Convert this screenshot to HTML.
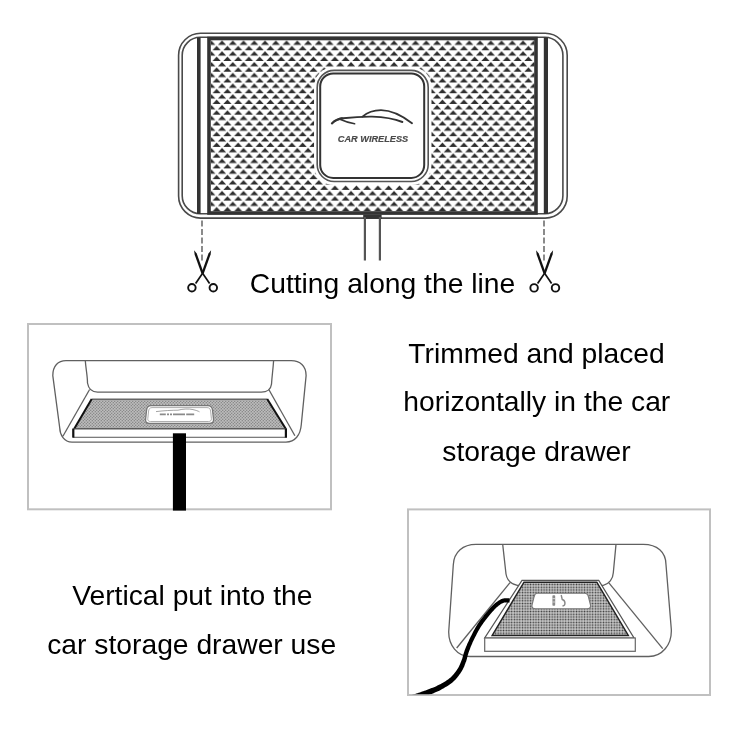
<!DOCTYPE html>
<html><head><meta charset="utf-8">
<style>
html,body{margin:0;padding:0;background:#fff;}
body{width:750px;height:750px;overflow:hidden;position:relative;}
svg{position:absolute;left:0;top:0;filter:blur(0.35px);}
text{font-family:"Liberation Sans",sans-serif;}
</style></head><body>
<svg width="750" height="750" viewBox="0 0 750 750">
<defs>
<pattern id="tri" x="211.3" y="40.5" width="10.75" height="10.74" patternUnits="userSpaceOnUse">
<path d="M0,0 L4.1,4.3 L-4.1,4.3Z M10.75,0 L14.85,4.3 L6.65,4.3Z M5.375,5.37 L9.475,9.67 L1.275,9.67Z" fill="#2e2e2e"/>
</pattern>
<pattern id="hatch1" x="0" y="0" width="3" height="3" patternUnits="userSpaceOnUse">
<rect width="3" height="3" fill="#acacac"/>
<path d="M-0.5,3.5 L3.5,-0.5 M-0.5,0.5 L0.5,-0.5 M2.5,3.5 L3.5,2.5" stroke="#7c7c7c" stroke-width="0.7"/>
<path d="M-0.5,-0.5 L3.5,3.5 M2.5,-0.5 L3.5,0.5 M-0.5,2.5 L0.5,3.5" stroke="#cfcfcf" stroke-width="0.5"/>
</pattern>
<pattern id="grid2" x="0" y="0" width="2.7" height="2.7" patternUnits="userSpaceOnUse">
<rect width="2.7" height="2.7" fill="#e6e6e6"/>
<rect x="0.5" y="0.5" width="1.75" height="1.75" fill="#383838"/>
</pattern>
</defs>

<!-- ===== main pad ===== -->
<rect x="178.6" y="33.3" width="388.6" height="184.8" rx="22" fill="#fff" stroke="#4a4a4a" stroke-width="1.6"/>
<rect x="182.2" y="37.3" width="380.7" height="176.4" rx="18" fill="#fff" stroke="#4a4a4a" stroke-width="1.6"/>
<rect x="211" y="40" width="323.5" height="171.5" fill="url(#tri)"/>
<rect x="209" y="38.5" width="327" height="174.5" fill="none" stroke="#333" stroke-width="3.6"/>
<rect x="197" y="37.5" width="3.6" height="176.5" fill="#333"/>
<rect x="543.8" y="37.5" width="4.2" height="176.5" fill="#333"/>
<!-- badge -->
<rect x="314" y="67" width="117.5" height="118" rx="20" fill="#fff"/>
<rect x="317.2" y="70.4" width="111" height="111.1" rx="17" fill="#fff" stroke="#555" stroke-width="1.6"/>
<rect x="320.2" y="73.5" width="104" height="104.4" rx="13" fill="#fff" stroke="#333" stroke-width="2"/>
<g fill="none" stroke="#333" stroke-linecap="round">
<path d="M331.8,123.3 C334.5,120.2 338,118.6 343,118.2 C352,117.2 362,116.5 372,116.6 C385,117 395,119 402.4,122" stroke-width="1.9"/>
<path d="M362.5,116.6 C367.5,112.2 373.5,110.1 381,110.1 C392,110.2 402,115.5 412,123.2" stroke-width="1.9"/>
<path d="M340.6,119.6 C345,121.6 349,123.1 354.6,123.8" stroke-width="1.6"/>
<path d="M331.2,124 C334,120.4 337.5,117.9 342.5,117.1 L343.5,119.3 C338.5,119.9 335,121.8 332.3,124.4Z" fill="#333" stroke="none"/>
</g>
<text x="373" y="141.8" text-anchor="middle" font-size="9.2" font-weight="bold" font-style="italic" fill="#4a4a4a" stroke="#4a4a4a" stroke-width="0.15">CAR WIRELESS</text>
<!-- cable -->
<rect x="363.2" y="214.8" width="18.4" height="4" fill="#333"/>
<rect x="363.8" y="217" width="2.2" height="43.5" fill="#555"/>
<rect x="378.8" y="217" width="2.2" height="43.5" fill="#555"/>
<!-- dashed -->
<line x1="202" y1="220.4" x2="202" y2="260.4" stroke="#777" stroke-width="1.7" stroke-dasharray="6.1,2.4"/>
<line x1="544" y1="220.4" x2="544" y2="260.4" stroke="#777" stroke-width="1.7" stroke-dasharray="6.1,2.4"/>
<!-- scissors -->
<g id="sc1" fill="none" stroke="#111" stroke-linecap="butt">
<path d="M194.1,250.2 L196.7,253.6 L203.7,272.9 L201.5,273.7 L194.6,254.4Z" fill="#111" stroke="none"/>
<path d="M211.1,250.2 L208.5,253.6 L201.5,272.9 L203.7,273.7 L210.6,254.4Z" fill="#111" stroke="none"/>
<path d="M202.6,273.3 L209.6,283.6" stroke-width="1.7"/>
<path d="M202.6,273.3 L195.6,283.6" stroke-width="1.7"/>
</g>
<g fill="none" stroke="#111" stroke-width="1.9">
<circle cx="191.9" cy="287.8" r="3.75"/>
<circle cx="213.3" cy="287.8" r="3.75"/>
</g>
<g transform="translate(342,0)" fill="none" stroke="#111" stroke-linecap="butt">
<path d="M194.1,250.2 L196.7,253.6 L203.7,272.9 L201.5,273.7 L194.6,254.4Z" fill="#111" stroke="none"/>
<path d="M211.1,250.2 L208.5,253.6 L201.5,272.9 L203.7,273.7 L210.6,254.4Z" fill="#111" stroke="none"/>
<path d="M202.6,273.3 L209.6,283.6" stroke-width="1.7"/>
<path d="M202.6,273.3 L195.6,283.6" stroke-width="1.7"/>
</g>
<g fill="none" stroke="#111" stroke-width="1.9">
<circle cx="534.1" cy="287.9" r="3.75"/>
<circle cx="555.5" cy="287.9" r="3.75"/>
</g>
<text x="382.5" y="293.3" text-anchor="middle" font-size="28.25" fill="#000">Cutting along the line</text>

<!-- ===== box 1 ===== -->
<rect x="28" y="324" width="303" height="185.3" fill="none" stroke="#c0c0c0" stroke-width="2"/>
<g fill="none" stroke="#606060" stroke-width="1.3">
<path d="M66,360.7 L291.2,360.7 C300,360.7 306.1,366 306.1,375.6 L301.3,424.5 C300.5,435 295,442.1 285.9,442.1 L72,442.1 C64,442.1 60,435 59.7,427.7 L52.8,375.6 C52.8,366 58,360.7 66,360.7Z" fill="#fff"/>
<path d="M85.3,360.7 C86,370 87.5,376 87.5,383 C88.5,389 92,392.1 97.6,392.1 L261.3,392.1 C267,392.1 271,389 271.5,384.1 C272,376 273,370 273.6,360.7"/>
<path d="M89.6,389.5 L62.9,436.3"/>
<path d="M268.8,389.5 L294.9,435.7"/>
</g>
<path d="M91.7,399 L267.2,399 L285.9,429 L74.1,429Z" fill="url(#hatch1)"/>
<path d="M91.7,399.2 L267.2,399.2" stroke="#666" stroke-width="1.5"/>
<path d="M74.1,429.2 L285.9,429.2" stroke="#333" stroke-width="2"/>
<path d="M91.7,399 L74.1,429" stroke="#111" stroke-width="2"/>
<path d="M267.2,399 L285.9,429" stroke="#111" stroke-width="2"/>
<rect x="73.3" y="429" width="213" height="8.3" fill="#fff" stroke="#666" stroke-width="1.1"/>
<rect x="72.2" y="428.6" width="2.2" height="9" fill="#111"/>
<rect x="284.8" y="428.6" width="2.2" height="9" fill="#111"/>
<!-- mat badge -->
<path d="M151,405.7 L208,405.7 C211,405.7 212,407 212.5,410 L213.5,419 C213.8,422 212.5,423.3 210,423.3 L149,423.3 C146.5,423.3 145.3,422 145.6,419 L146.6,410 C147,407 148.5,405.7 151,405.7Z" fill="#fff" stroke="#777" stroke-width="1.3"/>
<path d="M152,407.6 L207,407.6 C209.5,407.6 210.3,409 210.6,411 L211.4,418.5 C211.6,420.5 210.5,421.5 208.5,421.5 L150.5,421.5 C148.5,421.5 147.5,420.5 147.8,418.5 L148.6,411 C148.9,409 149.8,407.6 152,407.6Z" fill="#fff" stroke="#999" stroke-width="0.8"/>
<path d="M156,411.6 C164,410.6 172,410.2 178,410.2 C183,408.8 189,408.6 193,409.6 C196,410.3 198,411 199.5,411.8" fill="none" stroke="#999" stroke-width="0.9"/>
<path d="M159.8,414.4 L199.8,414.4" stroke="#8a8a8a" stroke-width="1.8" stroke-dasharray="6,1.2,2,1,2,1,12,1.2,8"/>
<!-- cable -->
<rect x="172.9" y="433.3" width="13.1" height="77.3" fill="#000"/>

<!-- ===== box 2 ===== -->
<rect x="408" y="509.4" width="302" height="185.6" fill="none" stroke="#c0c0c0" stroke-width="2"/>
<g fill="none" stroke="#606060" stroke-width="1.3">
<path d="M476,544.4 L643.3,544.4 C657,544.4 666,552 666,564.7 L671.3,629.3 C672,645 662,656.5 648.7,656.5 L470,656.5 C457,656.5 448.7,645 448.7,632 L453.3,564.7 C454,552 463,544.4 476,544.4Z" fill="#fff"/>
<path d="M502.7,544.4 L506,574 C507,580 511,584 517.3,585.3 L603.3,585.3 C609,584 613,579 613.3,572.7 L616,544.4"/>
<path d="M510,582.7 L456.7,648"/>
<path d="M608.7,582.7 L662.7,648.7"/>
</g>
<path d="M522,580.4 L598.7,580.4 L634,638 L484.7,638Z" fill="#fff" stroke="#555" stroke-width="1.2"/>
<path d="M524,582.2 L596.8,582.2 L628.3,635.4 L492.2,635.4Z" fill="url(#grid2)" stroke="#222" stroke-width="1.5"/>
<path d="M537,593.3 L584.5,593.3 C587,593.3 588,595 588.5,597 L590.5,605 C591,607.5 589.5,608.7 587,608.7 L535.5,608.7 C533,608.7 531.5,607.5 532,605 L534,597 C534.5,595 535.5,593.3 537,593.3Z" fill="#fff" stroke="#777" stroke-width="1.1"/>
<rect x="552.4" y="595.2" width="2.8" height="10.6" rx="0.8" fill="#8a8a8a"/><path d="M552.4,598.6 H555.2 M552.4,602 H555.2" stroke="#eee" stroke-width="0.7"/><path d="M561.2,595 L562.2,599.5 C565.5,600.3 566.2,605.5 562.5,606" stroke="#888" stroke-width="1.4" fill="none"/>
<rect x="484.7" y="638" width="150.6" height="13.3" fill="#fff" stroke="#666" stroke-width="1.2"/>
<clipPath id="b2clip"><rect x="409" y="511" width="300" height="183.2"/></clipPath>
<g clip-path="url(#b2clip)"><path d="M509.5,598.2 L509.2,598.2 L508.9,598.2 L508.5,598.2 L508.0,598.2 L507.4,598.2 L506.8,598.2 L506.2,598.2 L505.6,598.2 L504.9,598.2 L504.3,598.3 L503.6,598.4 L502.9,598.6 L502.4,598.8 L501.8,598.9 L501.3,599.1 L500.8,599.4 L500.3,599.6 L499.8,599.9 L499.3,600.2 L498.8,600.5 L498.3,600.8 L497.8,601.2 L497.3,601.5 L496.7,601.9 L496.2,602.3 L495.7,602.7 L495.2,603.1 L494.7,603.5 L494.2,604.0 L493.6,604.4 L493.1,605.0 L492.5,605.5 L491.9,606.2 L491.2,606.8 L490.6,607.6 L489.8,608.4 L489.0,609.3 L488.2,610.3 L487.2,611.4 L486.3,612.6 L485.3,613.8 L484.2,615.1 L483.2,616.4 L482.2,617.7 L481.2,619.0 L480.2,620.3 L479.3,621.6 L478.5,622.8 L477.6,624.1 L476.9,625.3 L476.1,626.6 L475.4,627.8 L474.7,629.1 L474.0,630.3 L473.3,631.5 L472.7,632.8 L472.1,634.0 L471.5,635.2 L470.9,636.3 L470.3,637.5 L469.8,638.6 L469.2,639.7 L468.7,640.9 L468.2,642.0 L467.7,643.1 L467.2,644.1 L466.8,645.2 L466.3,646.2 L465.9,647.3 L465.5,648.3 L465.1,649.3 L464.7,650.2 L464.4,651.2 L464.1,652.2 L463.8,653.1 L463.5,654.0 L463.3,654.8 L463.1,655.6 L462.8,656.4 L462.6,657.2 L462.4,658.0 L462.2,658.7 L461.9,659.4 L461.6,660.2 L461.3,661.0 L461.0,661.8 L460.7,662.5 L460.4,663.3 L460.1,664.0 L459.8,664.8 L459.4,665.5 L459.1,666.2 L458.7,666.9 L458.3,667.7 L457.9,668.4 L457.4,669.1 L456.9,669.9 L456.3,670.7 L455.8,671.4 L455.2,672.2 L454.6,673.0 L454.0,673.8 L453.4,674.5 L452.7,675.3 L452.0,676.0 L451.3,676.7 L450.6,677.4 L449.8,678.1 L448.9,678.8 L448.1,679.4 L447.1,680.1 L446.1,680.7 L445.1,681.4 L444.1,682.0 L443.0,682.7 L441.9,683.3 L440.8,683.9 L439.6,684.5 L438.5,685.1 L437.4,685.6 L436.3,686.2 L435.2,686.7 L434.0,687.2 L432.8,687.7 L431.6,688.1 L430.4,688.6 L429.2,689.1 L427.9,689.5 L426.7,689.9 L425.5,690.4 L424.4,690.8 L423.2,691.2 L422.1,691.6 L421.0,692.0 L419.8,692.4 L418.6,692.8 L417.4,693.2 L416.3,693.6 L415.2,693.9 L414.2,694.2 L413.2,694.6 L412.4,694.8 L411.7,695.1 L411.1,695.3 L412.9,700.7 L413.5,700.5 L414.2,700.3 L415.0,700.0 L416.0,699.7 L417.0,699.3 L418.1,699.0 L419.3,698.6 L420.4,698.1 L421.6,697.7 L422.8,697.3 L424.0,696.8 L425.2,696.4 L426.3,696.0 L427.4,695.5 L428.6,695.1 L429.8,694.6 L431.1,694.2 L432.3,693.7 L433.6,693.2 L434.9,692.6 L436.1,692.1 L437.4,691.5 L438.6,691.0 L439.8,690.4 L441.0,689.7 L442.1,689.1 L443.3,688.5 L444.4,687.8 L445.6,687.1 L446.7,686.4 L447.9,685.7 L449.0,685.0 L450.0,684.2 L451.1,683.5 L452.1,682.7 L453.0,681.9 L453.9,681.1 L454.8,680.3 L455.6,679.4 L456.4,678.6 L457.1,677.7 L457.8,676.8 L458.5,675.9 L459.1,675.1 L459.7,674.2 L460.3,673.4 L460.9,672.5 L461.4,671.7 L461.9,670.9 L462.4,670.0 L462.9,669.2 L463.3,668.3 L463.7,667.5 L464.1,666.7 L464.4,665.9 L464.7,665.0 L465.0,664.2 L465.3,663.4 L465.6,662.6 L466.0,661.8 L466.3,660.9 L466.5,660.1 L466.8,659.2 L467.0,658.4 L467.2,657.6 L467.4,656.8 L467.6,656.0 L467.8,655.1 L468.1,654.3 L468.3,653.5 L468.6,652.6 L468.9,651.8 L469.2,650.8 L469.6,649.9 L469.9,648.9 L470.3,647.9 L470.7,646.8 L471.2,645.8 L471.6,644.8 L472.1,643.7 L472.5,642.6 L473.0,641.5 L473.5,640.4 L474.1,639.3 L474.6,638.2 L475.2,637.0 L475.8,635.9 L476.4,634.7 L477.0,633.5 L477.7,632.3 L478.3,631.1 L479.0,629.9 L479.7,628.7 L480.4,627.5 L481.2,626.3 L481.9,625.2 L482.8,624.0 L483.6,622.8 L484.6,621.5 L485.5,620.2 L486.5,619.0 L487.5,617.7 L488.5,616.5 L489.5,615.3 L490.5,614.1 L491.4,613.1 L492.2,612.1 L493.0,611.2 L493.7,610.4 L494.3,609.7 L494.9,609.1 L495.5,608.5 L496.0,608.0 L496.5,607.6 L496.9,607.1 L497.4,606.7 L497.9,606.4 L498.3,606.0 L498.8,605.6 L499.3,605.3 L499.7,604.9 L500.2,604.6 L500.6,604.3 L501.0,604.0 L501.4,603.8 L501.8,603.6 L502.2,603.4 L502.6,603.2 L502.9,603.0 L503.3,602.9 L503.7,602.7 L504.1,602.6 L504.4,602.5 L504.8,602.5 L505.3,602.4 L505.8,602.4 L506.3,602.4 L506.8,602.4 L507.4,602.4 L507.9,602.4 L508.4,602.4 L508.8,602.4 L509.2,602.4 L509.5,602.4Z" fill="#000"/></g>

<!-- texts -->
<text x="536.5" y="363" text-anchor="middle" font-size="28.25" fill="#000">Trimmed and placed</text>
<text x="536.8" y="411.3" text-anchor="middle" font-size="28.25" fill="#000">horizontally in the car</text>
<text x="536.5" y="460.7" text-anchor="middle" font-size="28.25" fill="#000">storage drawer</text>
<text x="192.3" y="604.8" text-anchor="middle" font-size="28.25" fill="#000">Vertical put into the</text>
<text x="191.7" y="653.7" text-anchor="middle" font-size="28.25" fill="#000">car storage drawer use</text>
</svg>
</body></html>
